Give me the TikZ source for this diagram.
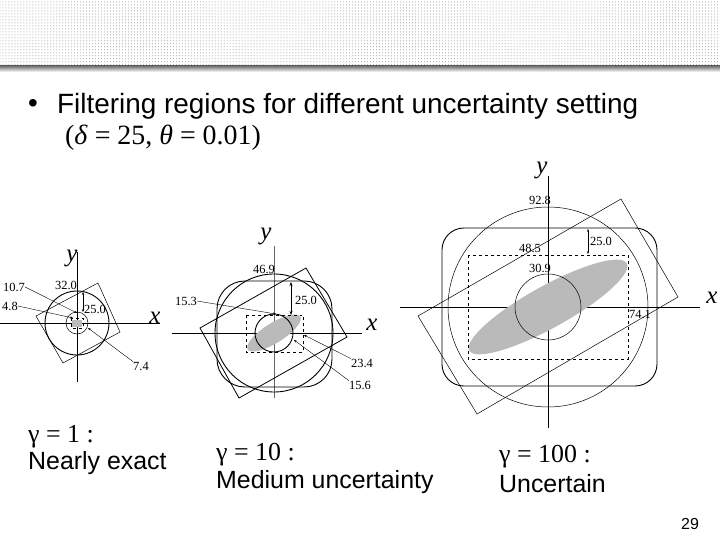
\documentclass[tikz,border=0pt]{standalone}
\usepackage{fontspec}
\setmainfont{Liberation Sans}
\newfontfamily\tms{Liberation Serif}
\usetikzlibrary{patterns,arrows.meta}
\begin{document}
\begin{tikzpicture}[x=1bp,y=-1bp,
  lbl/.style={font=\tms\fontsize{12.5}{12.5}\selectfont,inner sep=0pt},
  axl/.style={font=\tms\itshape\fontsize{25}{25}\selectfont,inner sep=0pt},
  big/.style={font=\fontsize{28}{30}\selectfont,inner sep=0pt,anchor=west},
  bigt/.style={font=\tms\fontsize{28}{30}\selectfont,inner sep=0pt,anchor=west},
  captxt/.style={font=\fontsize{25}{28}\selectfont,inner sep=0pt,anchor=west},
  capt/.style={font=\tms\fontsize{26}{28}\selectfont,inner sep=0pt,anchor=west},
  ax/.style={line width=0.6pt},
  thin/.style={line width=0.5pt},
  dsh/.style={dashed,line width=0.8pt},
  ell/.style={fill=black!27,draw=none},
  lead/.style={line width=0.4pt}]
\useasboundingbox (0,0) rectangle (720,540);
\fill[white] (0,0) rectangle (720,540);
% header
\fill[pattern=dots,pattern color=black!45] (0,0) rectangle (720,66);
\shade[top color=black!55,bottom color=white] (0,66) rectangle (720,72);
% title
\node[big] (bul) at (28,106) {•};
\node[big] (t1) at (57,106) {Filtering regions for different uncertainty setting};
\node[bigt] (t2) at (65,138) {(\textit{δ} = 25, \textit{θ} = 0.01)};
% ===== left diagram =====
\draw[ax] (0,323) -- (160,323);
\draw[ax] (77,252) -- (77,382);
\draw[thin] (36,316) -- (98,283) -- (120,332) -- (63,363) -- cycle;
\draw[line width=0.9pt] (77,323) circle (32);
\draw[thin] (77,323) circle (11);
\draw[thin,dashed] (71,318) rectangle (83,328);
\fill[black!27] (72,320) rectangle (82,327);
\node[axl] (ly) at (72,258) {y};
\node[axl] (lx) at (155,318) {x};
\node[lbl] (l32) at (66,285) {32.0};
\node[lbl] (l107) at (14,287) {10.7};
\node[lbl] (l48) at (10,306) {4.8};
\node[lbl] (l25) at (95,309) {25.0};
\node[lbl] (l74) at (141,366) {7.4};
\coordinate (l107e) at (77,313);
\coordinate (l48e) at (73,318);
\coordinate (l74e) at (88,328);
\draw[lead,-{Stealth[length=3pt]}] (l107.east) -- (l107e);
\draw[lead,-{Stealth[length=3pt]}] (l48.east) -- (l48e);
\draw[lead,-{Stealth[length=3pt]}] (l74.north west) -- (l74e);
\coordinate (la1) at (83,292);
\coordinate (la2) at (83,312);
\draw[lead,{Stealth[length=3pt]}-{Stealth[length=3pt]}] (la1) -- (la2);
% ===== middle diagram =====
\draw[ax] (172,333) -- (362,333);
\draw[ax,black!60] (274,246) -- (274,398);
\fill[ell,rotate around={32:(274,333)}] (274,333) ellipse (31 and 10);
\draw[line width=0.9pt] (274,333) circle (59);
\draw[line width=0.9pt,rounded corners=28] (217,281) rectangle (332,387);
\draw[line width=0.8pt] (200,328) -- (306,268) -- (347,337) -- (239,398) -- cycle;
\draw[line width=0.9pt] (274,333) circle (19);
\draw[dsh] (246,315) rectangle (303,352);
\node[axl] (my) at (266,236) {y};
\node[axl] (mx) at (372,325) {x};
\node[lbl] (m469) at (264,269) {46.9};
\node[lbl] (m153) at (186,301) {15.3};
\node[lbl] (m25) at (306,300) {25.0};
\node[lbl] (m234) at (362,363) {23.4};
\node[lbl] (m156) at (360,385) {15.6};
\coordinate (m153e) at (276,314);
\coordinate (m234e) at (304,335);
\coordinate (m156e) at (294,340);
\draw[lead,-{Stealth[length=3pt]}] (m153.east) -- (m153e);
\draw[lead,-{Stealth[length=3pt]}] (m234.north west) -- (m234e);
\draw[lead,-{Stealth[length=3pt]}] (m156.north west) -- (m156e);
\coordinate (ma1) at (291,282);
\coordinate (ma2) at (291,315);
\draw[line width=0.6pt,{Stealth[length=4pt]}-{Stealth[length=4pt]}] (ma1) -- (ma2);
% ===== right diagram =====
\draw[ax] (400,307) -- (700,307);
\draw[ax] (548,176) -- (548,428);
\fill[ell,rotate around={29:(548,307)}] (548,307) ellipse (90 and 21);
\draw[thin] (548,307) circle (100);
\draw[line width=0.9pt,rounded corners=22] (442,228) rectangle (657,386);
\draw[thin] (418,316) -- (621,199) -- (678,297) -- (477,414) -- cycle;
\draw[thin] (548,307) circle (33);
\draw[dsh] (468,255) rectangle (628,359);
\node[axl] (ry) at (542,170) {y};
\node[axl] (rx) at (712,298) {x};
\node[lbl] (r928) at (540,200) {92.8};
\node[lbl] (r485) at (530,248) {48.5};
\node[lbl] (r309) at (540,268) {30.9};
\node[lbl] (r25) at (601,241) {25.0};
\node[lbl] (r741) at (640,314) {74.1};
\coordinate (ra1) at (588,229);
\coordinate (ra2) at (588,254);
\draw[lead,{Stealth[length=3pt]}-{Stealth[length=3pt]}] (ra1) -- (ra2);
% bottom captions
\node[capt] (g1) at (28,437) {γ = 1 :};
\node[captxt] (g1b) at (28,463) {Nearly exact};
\node[capt] (g2) at (216,455) {γ = 10 :};
\node[captxt] (g2b) at (216,482) {Medium uncertainty};
\node[capt] (g3) at (499,457) {γ = 100 :};
\node[captxt] (g3b) at (499,484) {Uncertain};
\node[font=\fontsize{16}{16}\selectfont,inner sep=0pt] (pg) at (690,524) {29};
\end{tikzpicture}
\end{document}
